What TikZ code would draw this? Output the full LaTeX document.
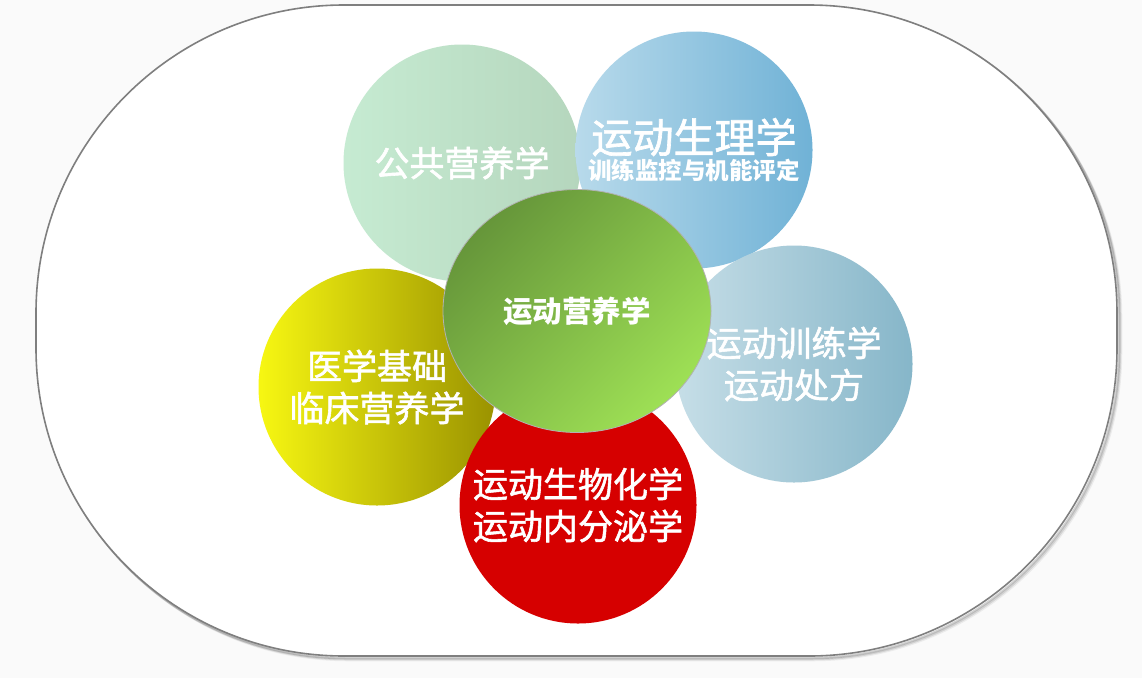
\documentclass[tikz,border=0pt]{standalone}
\usepackage{fontspec}
\setmainfont{Noto Sans CJK SC}
\newfontfamily\cjk[FakeBold=1.6]{Noto Sans CJK SC}
\newfontfamily\cjkr{Noto Sans CJK SC}
\usetikzlibrary{shapes.geometric}
\definecolor{bgc}{HTML}{FAFAFA}
\definecolor{edgec}{HTML}{7F7F7F}
\definecolor{gA}{HTML}{C6EBD2}
\definecolor{gB}{HTML}{B5D6BD}
\definecolor{bA}{HTML}{B8DAEB}
\definecolor{bB}{HTML}{70B2D6}
\definecolor{tA}{HTML}{C6DEE7}
\definecolor{tB}{HTML}{86B6C9}
\definecolor{yA}{HTML}{F7F712}
\definecolor{yB}{HTML}{9A9200}
\definecolor{rA}{HTML}{D60000}
\definecolor{cA}{HTML}{66963A}
\definecolor{cB}{HTML}{9EE055}
\tikzset{
  bubble/.style={circle, minimum size=237pt, inner sep=0pt, text=white, align=center},
  bigtxt/.style={font=\cjk\fontsize{35}{42}\selectfont},
  outer/.style={rounded corners=308pt},
}
\begin{document}
\begin{tikzpicture}[x=1pt,y=-1pt]
\useasboundingbox (0,0) rectangle (1142,678);
\fill[bgc] (0,0) rectangle (1142,678);
% shadow of outer shape
\foreach \o/\a in {4/0.06,3/0.10,2/0.16}{
  \draw[black, opacity=\a, line width=2.5pt, outer] (36+\o,5+\o) rectangle (1117+\o,656+\o);
}
\fill[white, outer] (36,5) rectangle (1117,656);
\draw[edgec, line width=1.6pt, outer] (36,5) rectangle (1117,656);

\node[bubble, bigtxt, left color=gA, right color=gB] (pub) at (462,163) {公共营养学};
\node[bubble, left color=bA, right color=bB] (phy) at (694,150)
  {{\cjk\fontsize{41}{44}\selectfont 运动生理学}\\[2pt]{\cjkr\bfseries\fontsize{23.5}{26}\selectfont 训练监控与机能评定}};
\node[bubble, bigtxt, left color=tA, right color=tB] (trn) at (794,364) {运动训练学\\运动处方};
\node[bubble, bigtxt, left color=yA, right color=yB] (med) at (377,387) {医学基础\\临床营养学};
\node[bubble, bigtxt, fill=rA] (bio) at (578,505) {运动生物化学\\运动内分泌学};
\node[ellipse, minimum width=268pt, minimum height=243pt, inner sep=0pt,
      draw=gray!60, line width=0.8pt, top color=cA, bottom color=cB, shading angle=45,
      text=white, font=\cjkr\bfseries\fontsize{29.5}{32}\selectfont] (ctr) at (577,311) {运动营养学};
\end{tikzpicture}
\end{document}
